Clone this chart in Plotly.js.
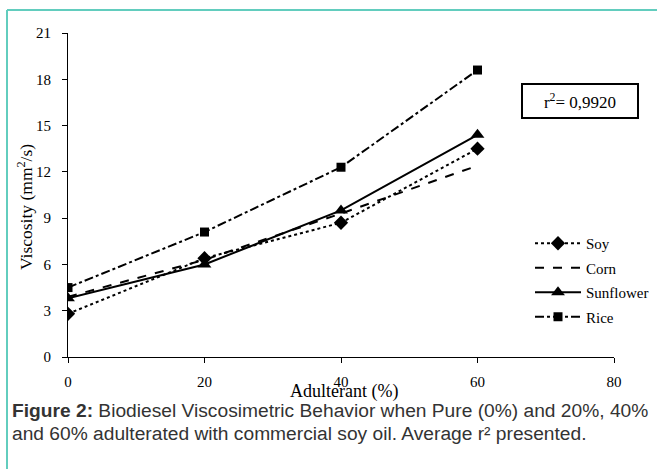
<!DOCTYPE html>
<html>
<head>
<meta charset="utf-8">
<script src="https://cdn.plot.ly/plotly-3.0.1.min.js"></script>
<style>
  html, body { margin: 0; padding: 0; background: #fff; }
  #chart { width: 657px; height: 469px; }
</style>
</head>
<body>
<div id="chart"></div>
<script>
// Data
const adulterant = [0, 20, 40, 60];
const soy = [2.8, 6.4, 8.7, 13.5];
const corn = [3.9, 6.3, 9.3, 12.4];
const sunflower = [3.8, 6.0, 9.5, 14.4];
const rice = [4.5, 8.1, 12.3, 18.6];
const seriesNames = ["Soy", "Corn", "Sunflower", "Rice"];
const xTicks = [0, 20, 40, 60, 80];
const yTicks = [0, 3, 6, 9, 12, 15, 18, 21];
const rSquaredText = "r<sup>2</sup>= 0,9920";
const xTitle = "Adulterant (%)";
const yTitle = "Viscosity (mm<sup>2</sup>/s)";
const captionLines = [
  "<b>Figure 2:</b> Biodiesel Viscosimetric Behavior when Pure (0%) and 20%, 40%",
  "and 60% adulterated with commercial soy oil. Average r² presented."
];

const serif = "Liberation Serif";
const sans = "Liberation Sans";

// pixel helpers for paper coordinates (plot area: x 68..614, y 33..357)
const px = v => (v - 68) / 546;
const py = v => (357 - v) / 324;

const traces = [
  {x: adulterant, y: soy, name: seriesNames[0], mode: "lines+markers",
   line: {color: "#000", width: 2, dash: "dot"},
   marker: {symbol: "diamond", size: 11, color: "#000"}, legendgroup: "a"},
  {x: adulterant, y: corn, name: seriesNames[1], mode: "lines",
   line: {color: "#000", width: 2, dash: "dash"}, legendgroup: "b"},
  {x: adulterant, y: sunflower, name: seriesNames[2], mode: "lines+markers",
   line: {color: "#000", width: 2},
   marker: {symbol: "triangle-up", size: 12, color: "#000"}, legendgroup: "c"},
  {x: adulterant, y: rice, name: seriesNames[3], mode: "lines+markers",
   line: {color: "#000", width: 2, dash: "dashdot"},
   marker: {symbol: "square", size: 9, color: "#000"}, legendgroup: "d"}
];

const captionAnnotations = captionLines.map((t, i) => ({
  xref: "paper", yref: "paper", x: px(10), y: py(410 + i * 23),
  xanchor: "left", yanchor: "middle", align: "left", text: t, showarrow: false,
  font: {family: sans, size: 19.2, color: "#333"}
}));

const layout = {
  width: 657, height: 469,
  margin: {l: 68, r: 43, t: 33, b: 112, autoexpand: false},
  paper_bgcolor: "#fff", plot_bgcolor: "#fff",
  font: {family: serif, size: 15, color: "#000"},
  showlegend: true,
  legend: {x: px(530), y: py(227), xanchor: "left", yanchor: "top",
           font: {family: serif, size: 15, color: "#000"}, itemwidth: 46,
           traceorder: "grouped", tracegroupgap: 2, bgcolor: "rgba(0,0,0,0)"},
  xaxis: {range: [0, 80], tickvals: xTicks, showline: true, linecolor: "#000", linewidth: 1,
          ticks: "outside", ticklen: 5, tickcolor: "#000", showgrid: false, zeroline: false,
          ticklabelstandoff: 6,
          tickfont: {family: serif, size: 15}, fixedrange: true},
  yaxis: {range: [0, 21], tickvals: yTicks, showline: true, linecolor: "#000", linewidth: 1,
          ticks: "outside", ticklen: 5, tickcolor: "#000", showgrid: false, zeroline: false,
          ticklabelstandoff: 8,
          tickfont: {family: serif, size: 15}, fixedrange: true},
  annotations: [
    {xref: "paper", yref: "paper", x: px(344), y: py(391), xanchor: "center", yanchor: "middle",
     text: xTitle, showarrow: false, font: {family: serif, size: 18, color: "#000"}},
    {xref: "paper", yref: "paper", x: px(25), y: py(207), xanchor: "center", yanchor: "middle",
     textangle: -90, text: yTitle, showarrow: false, font: {family: serif, size: 17.5, color: "#000"}},
    {xref: "paper", yref: "paper", x: px(580), y: py(101), xanchor: "center", yanchor: "middle",
     text: rSquaredText, showarrow: false,
     font: {family: serif, size: 17, color: "#000"}, bordercolor: "#000", borderwidth: 2,
     width: 112, height: 30, borderpad: 1, bgcolor: "#fff"}
  ].concat(captionAnnotations),
  shapes: [
    {type: "line", xref: "paper", yref: "paper", x0: px(7), x1: px(660),
     y0: py(10), y1: py(10), line: {color: "#62cdbe", width: 2}},
    {type: "line", xref: "paper", yref: "paper", x0: px(7), x1: px(7),
     y0: py(10), y1: py(475), line: {color: "#62cdbe", width: 2}}
  ]
};

Plotly.newPlot("chart", traces, layout, {displayModeBar: false, staticPlot: true});
</script>
</body>
</html>
